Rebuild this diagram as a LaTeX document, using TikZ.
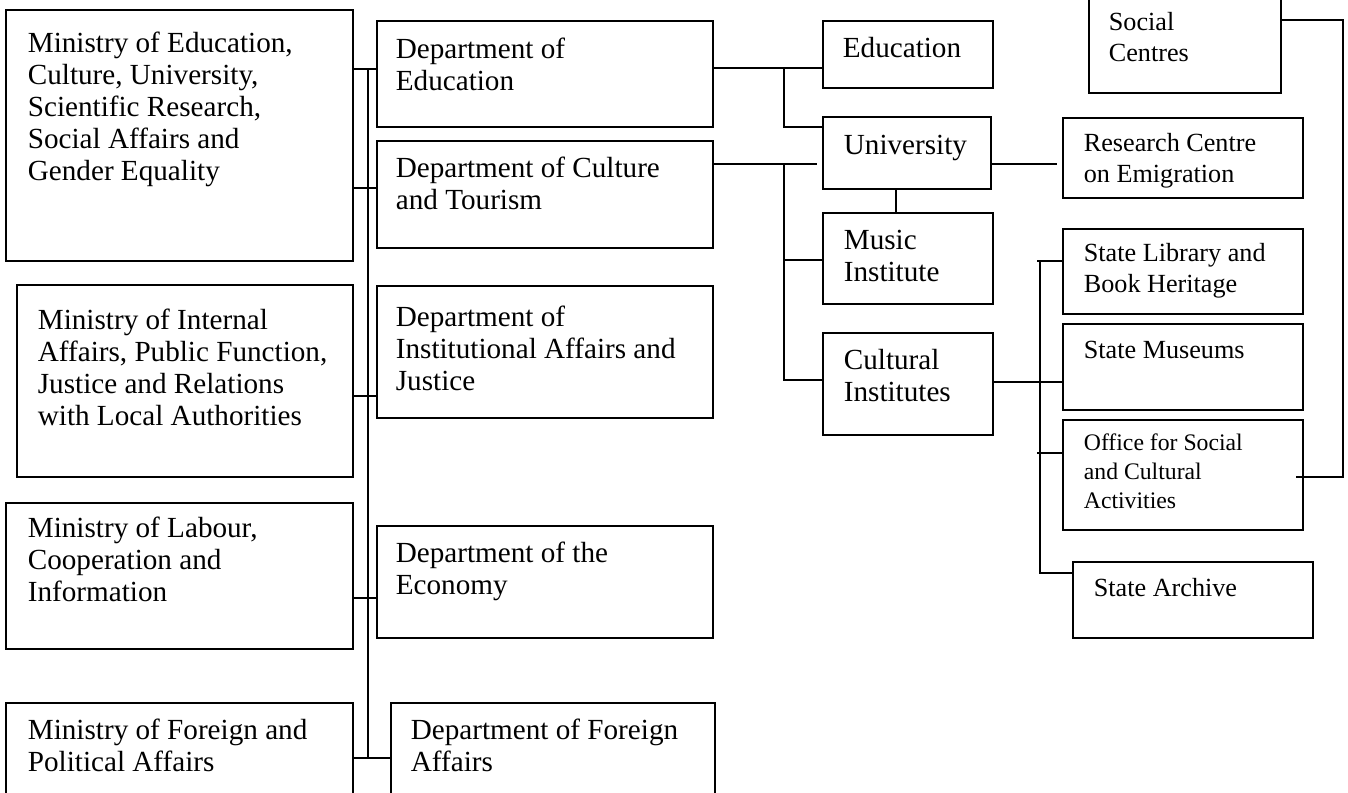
\documentclass[tikz,border=0pt]{standalone}
\usepackage{fontspec}
\setmainfont{Liberation Serif}
\usetikzlibrary{positioning}

\newlength\pxu
\setlength\pxu{0.02cm}
\newcommand{\bigtxt}{\fontsize{16.6}{18.1}\selectfont}
\newcommand{\midtxt}{\fontsize{14.9}{17.2}\selectfont}
\newcommand{\smalltxt}{\fontsize{13.5}{16.4}\selectfont}
% box content: width, height, first baseline, left padding, text
\newcommand{\boxtext}[5]{\parbox[t][#2\pxu][t]{#1\pxu}{\raggedright\leftskip=#4\pxu
  \vspace*{\dimexpr#3\pxu-\ht\strutbox\relax}\strut#5}}

\begin{document}
\begin{tikzpicture}[
  x=0.02cm, y=-0.02cm,
  % Grundstile
  orgbox/.style={
    draw=black,
    line width=1pt,
    anchor=north west,
    inner sep=0pt,
    font=#1
  },
  orgbox/.default=\bigtxt,
  link/.style={
    draw=black,
    line width=1pt
  }
]
\useasboundingbox (0,0) rectangle (1348,792);
\clip (0,0) rectangle (1348,792);

% =============================================================================
% MINISTRIES
% =============================================================================
\node[orgbox] (min1) at (5,9) {\boxtext{347}{251}{43}{22}{Ministry of Education,\\ Culture, University,\\ Scientific Research,\\ Social Affairs and\\ Gender Equality}};
\node[orgbox] (min2) at (16,284) {\boxtext{336}{192}{45}{21}{Ministry of Internal\\ Affairs, Public Function,\\ Justice and Relations\\ with Local Authorities}};
\node[orgbox] (min3) at (5,502) {\boxtext{347}{146}{35}{22}{Ministry of Labour,\\ Cooperation and\\ Information}};
\node[orgbox] (min4) at (5,702) {\boxtext{347}{110}{37}{22}{Ministry of Foreign and\\ Political Affairs}};

% =============================================================================
% DEPARTMENTS
% =============================================================================
\node[orgbox] (dep1) at (376,20) {\boxtext{336}{106}{38}{19}{Department of\\ Education}};
\node[orgbox] (dep2) at (376,140) {\boxtext{336}{107}{37}{19}{Department of Culture\\ and Tourism}};
\node[orgbox] (dep3) at (376,285) {\boxtext{336}{132}{41}{19}{Department of\\ Institutional Affairs and\\ Justice}};
\node[orgbox] (dep4) at (376,525) {\boxtext{336}{112}{37}{19}{Department of the\\ Economy}};
\node[orgbox] (dep5) at (390,702) {\boxtext{324}{110}{37}{20}{Department of Foreign\\ Affairs}};

% =============================================================================
% OFFICES
% =============================================================================
\node[orgbox] (edu) at (822,20) {\boxtext{170}{67}{37}{20}{Education}};
\node[orgbox] (uni) at (822,116) {\boxtext{168}{72}{38}{21}{University}};
\node[orgbox] (mus) at (822,212) {\boxtext{170}{91}{37}{21}{Music\\ Institute}};
\node[orgbox] (cul) at (822,332) {\boxtext{170}{102}{37}{21}{Cultural\\ Institutes}};

\node[orgbox=\midtxt] (soc) at (1088,-10) {\boxtext{192}{102}{40}{20}{Social\\ Centres}};
\node[orgbox=\midtxt] (res) at (1062,117) {\boxtext{240}{80}{34}{21}{Research Centre\\ on Emigration}};
\node[orgbox=\midtxt] (lib) at (1062,228) {\boxtext{240}{85}{33}{21}{State Library and\\ Book Heritage}};
\node[orgbox=\midtxt] (msm) at (1062,323) {\boxtext{240}{86}{35}{21}{State Museums}};
\node[orgbox=\smalltxt] (off) at (1062,419) {\boxtext{240}{110}{31}{21}{Office for Social\\ and Cultural\\ Activities}};
\node[orgbox=\midtxt] (arc) at (1072,561) {\boxtext{240}{76}{35}{21}{State Archive}};

% =============================================================================
% VERBINDUNGEN
% =============================================================================
% Sammelschiene links
\coordinate (bus1) at (368,69);
\coordinate (bus2) at (368,188);
\coordinate (bus3) at (368,396);
\coordinate (bus4) at (368,598);
\coordinate (bus5) at (368,758);
\draw[link] (bus1) -- (bus5);
\draw[link] (min1.east |- bus1) -- (dep1.west |- bus1);
\draw[link] (min1.east |- bus2) -- (dep2.west |- bus2);
\draw[link] (min2.east |- bus3) -- (dep3.west |- bus3);
\draw[link] (min3.east |- bus4) -- (dep4.west |- bus4);
\draw[link] (min4.east |- bus5) -- (dep5.west |- bus5);

% Education, University
\coordinate (eduJ) at (784,68);
\coordinate (uniJ) at (784,127);
\draw[link] (dep1.east |- eduJ) -- (edu.west |- eduJ);
\draw[link] (eduJ) -- (uniJ) -- (uni.west |- uniJ);

% Music, Cultural Institutes
\coordinate (culJ) at (784,164);
\coordinate (culEnd) at (817,164);
\coordinate (musJ) at (784,260);
\coordinate (insJ) at (784,380);
\draw[link] (dep2.east |- culJ) -- (culEnd);
\draw[link] (culJ) -- (insJ) -- (cul.west |- insJ);
\draw[link] (musJ) -- (mus.west |- musJ);
\coordinate (umx) at (896,0);
\draw[link] (uni.south -| umx) -- (mus.north -| umx);

% Research Centre
\coordinate (resEnd) at (1057,164);
\draw[link] (uni.east |- resEnd) -- (resEnd);

% State institutes
\coordinate (cmJ) at (1064,382);
\draw[link] (cul.east |- cmJ) -- (cmJ);
\coordinate (stTop) at (1040,261);
\coordinate (libJ) at (1037,261);
\coordinate (offJ) at (1037,453);
\coordinate (arcJ) at (1040,573);
\draw[link] (stTop) -- (arcJ) -- (arc.west |- arcJ);
\draw[link] (libJ) -- (lib.west |- libJ);
\draw[link] (offJ) -- (off.west |- offJ);

% Social Centres
\coordinate (socR) at (1343,20);
\coordinate (socB) at (1343,477);
\coordinate (socEnd) at (1296,477);
\draw[link] (soc.east |- socR) -- (socR) -- (socB) -- (socEnd);

\end{tikzpicture}
\end{document}
